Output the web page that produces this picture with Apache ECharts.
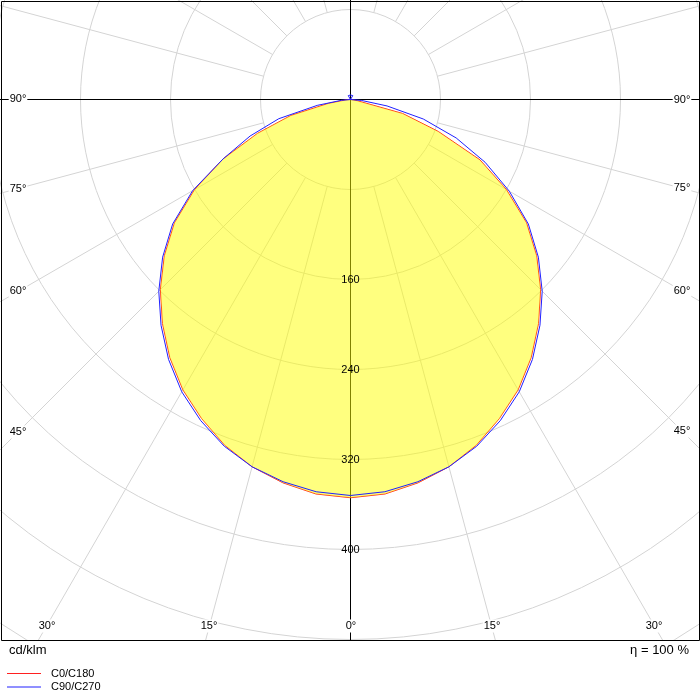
<!DOCTYPE html>
<html>
<head>
<meta charset="utf-8">
<script src="https://cdn.jsdelivr.net/npm/echarts@6/dist/echarts.min.js"></script>
<style>
  html, body { margin: 0; padding: 0; background: #fff; }
  #chart { width: 700px; height: 700px; }
</style>
</head>
<body>
<div id="chart"></div>
<script>
// gamma angles (deg from nadir) and intensities in cd/klm
const gamma = [0, 5, 10, 15, 20, 25, 30, 35, 40, 45, 50, 55, 60, 65, 70, 75, 80, 85, 90]
const c0 = [354, 352, 346, 338, 327, 313, 298, 280, 260, 239, 216, 191, 160, 127, 83, 48, 6, 1, 0]
const c180 = [354, 352, 346, 338, 327, 313, 298, 280, 260, 239, 216, 191, 160, 125, 88, 55, 20, 4, 0]
const c90 = [352, 350, 345, 338, 328, 315, 300, 282, 262, 241, 218, 193, 163, 132, 100, 67, 33, 10, 0]
const c270 = [352, 350, 345, 338, 328, 315, 300, 282, 262, 241, 218, 193, 162, 125, 95, 66, 30, 8, 0]
// tiny upward part
const topGamma = [150, 180]
const c0Top = [0, 0]
const c90Top = [4, 4]

const ringLabels = [160, 240, 320, 400]
const spokeAngles = []
for (let a = 15; a < 360; a += 15) if (a % 90 !== 0) spokeAngles.push(a)
const edgeLabels = [
  [90, '90°'], [75, '75°'], [60, '60°'], [45, '45°'], [30, '30°'], [15, '15°'], [0, '0°'],
  [345, '15°'], [330, '30°'], [315, '45°'], [300, '60°'], [285, '75°'], [270, '90°'],
]
const legendNames = ['C0/C180', 'C90/C270']

const FONT = '"Liberation Sans", Arial, sans-serif'
const GRID = '#d4d4d4'
const RED = '#ff2020'
const BLUE = '#2020ff'

// left half at angle g, right half at 360 - g, running through the top
function buildLoop(left, right, top) {
  const pts = []
  gamma.forEach((g, i) => pts.push([left[i], g]))
  topGamma.forEach((g, i) => pts.push([top[i], g]))
  for (let i = topGamma.length - 1; i >= 0; i--) {
    if (topGamma[i] !== 180) pts.push([top[i], 360 - topGamma[i]])
  }
  for (let i = gamma.length - 1; i >= 0; i--) pts.push([right[i], 360 - gamma[i]])
  return pts
}

const redLoop = buildLoop(c180, c0, c0Top)
const blueLoop = buildLoop(c270, c90, c90Top)

const chart = echarts.init(document.getElementById('chart'))

const legendGraphics = []
;[RED, BLUE].forEach((col, i) => {
  const y = 673.5 + i * 13.5
  legendGraphics.push({ type: 'line', z: 52, shape: { x1: 7, y1: y, x2: 41, y2: y }, style: { stroke: col, lineWidth: 1 } })
  legendGraphics.push({ type: 'text', z: 52, x: 51, y: y, style: { text: legendNames[i], font: '11px ' + FONT, fill: '#000', verticalAlign: 'middle' } })
})

const option = {
  animation: false,
  polar: { center: [350.5, 99.5], radius: 720 },
  angleAxis: {
    type: 'value',
    min: 0,
    max: 360,
    interval: 15,
    startAngle: 270,
    clockwise: true,
    axisLine: { show: false },
    axisTick: { show: false },
    axisLabel: { show: false },
    splitLine: { show: false },
  },
  radiusAxis: {
    type: 'value',
    min: 0,
    max: 640,
    interval: 80,
    axisLine: { show: false },
    axisTick: { show: false },
    axisLabel: { show: false },
    splitLine: { show: true, lineStyle: { color: GRID, width: 1 } },
  },
  graphic: [
    { type: 'rect', z: 50, shape: { x: 0, y: 641, width: 700, height: 60 }, style: { fill: '#fff' } },
    { type: 'rect', z: 51, shape: { x: 1.5, y: 1.5, width: 698, height: 639 }, style: { fill: 'none', stroke: '#000', lineWidth: 1 } },
    { type: 'text', z: 52, x: 9, y: 650, style: { text: 'cd/klm', font: '13px ' + FONT, fill: '#000', verticalAlign: 'middle' } },
    { type: 'text', z: 52, x: 689, y: 650, style: { text: 'η = 100 %', font: '13px ' + FONT, fill: '#000', align: 'right', verticalAlign: 'middle' } },
  ].concat(legendGraphics),
  series: [
    {
      // radial grid lines, starting at the first ring
      type: 'custom',
      coordinateSystem: 'polar',
      z: 1,
      silent: true,
      data: spokeAngles.map(a => [80, a]),
      renderItem: (params, api) => {
        const a = api.value(1)
        const p0 = api.coord([api.value(0), a])
        const p1 = api.coord([1200, a])
        return {
          type: 'line',
          shape: { x1: p0[0], y1: p0[1], x2: p1[0], y2: p1[1] },
          style: { stroke: GRID, lineWidth: 1 },
        }
      },
    },
    {
      // main axes
      type: 'custom',
      coordinateSystem: 'polar',
      z: 1,
      silent: true,
      data: [[1200, 0], [1200, 90]],
      renderItem: (params, api) => {
        const a = api.value(1)
        const p0 = api.coord([1200, a])
        const p1 = api.coord([1200, a + 180])
        return {
          type: 'line',
          z2: 5,
          shape: { x1: p0[0], y1: p0[1], x2: p1[0], y2: p1[1] },
          style: { stroke: '#000', lineWidth: 1 },
        }
      },
    },
    {
      name: 'C0/C180',
      type: 'line',
      coordinateSystem: 'polar',
      z: 2,
      showSymbol: false,
      silent: true,
      color: RED,
      lineStyle: { color: RED, width: 1 },
      data: redLoop,
    },
    {
      // yellow fill of the C0/C180 curve, laid over its line
      type: 'line',
      coordinateSystem: 'polar',
      z: 3,
      showSymbol: false,
      silent: true,
      lineStyle: { width: 0, opacity: 0 },
      areaStyle: { color: '#ffff00', opacity: 0.5 },
      data: redLoop,
    },
    {
      name: 'C90/C270',
      type: 'line',
      coordinateSystem: 'polar',
      z: 4,
      showSymbol: false,
      silent: true,
      color: BLUE,
      lineStyle: { color: BLUE, width: 1 },
      data: blueLoop,
    },
    {
      // ring values on the nadir axis
      type: 'custom',
      coordinateSystem: 'polar',
      z: 5,
      silent: true,
      data: ringLabels.map(v => [v, 0]),
      renderItem: (params, api) => {
        const p = api.coord([api.value(0), api.value(1)])
        return {
          type: 'text',
          x: p[0],
          y: p[1],
          style: { text: String(api.value(0)), font: '11px ' + FONT, fill: '#000', align: 'center', verticalAlign: 'middle' },
        }
      },
    },
    {
      // angle labels where the spokes meet the frame
      type: 'custom',
      coordinateSystem: 'polar',
      z: 6,
      silent: true,
      data: edgeLabels.map(d => [0, d[0]]),
      renderItem: (params, api) => {
        const a = api.value(1)
        const c = api.coord([0, a])
        const q = api.coord([100, a])
        const dx = q[0] - c[0]
        const dy = q[1] - c[1]
        const ts = []
        if (dx < -1e-6) ts.push((18 - c[0]) / dx)
        if (dx > 1e-6) ts.push((682 - c[0]) / dx)
        if (dy > 1e-6) ts.push((626 - c[1]) / dy)
        const t = Math.min.apply(null, ts)
        return {
          type: 'text',
          x: Math.round(c[0] + t * dx),
          y: Math.round(c[1] + t * dy),
          style: {
            text: edgeLabels[params.dataIndex][1],
            font: '11px ' + FONT,
            fill: '#000',
            align: 'center',
            verticalAlign: 'middle',
            backgroundColor: '#fff',
            padding: [1, 1],
          },
        }
      },
    },
  ],
}

chart.setOption(option)
</script>
</body>
</html>
